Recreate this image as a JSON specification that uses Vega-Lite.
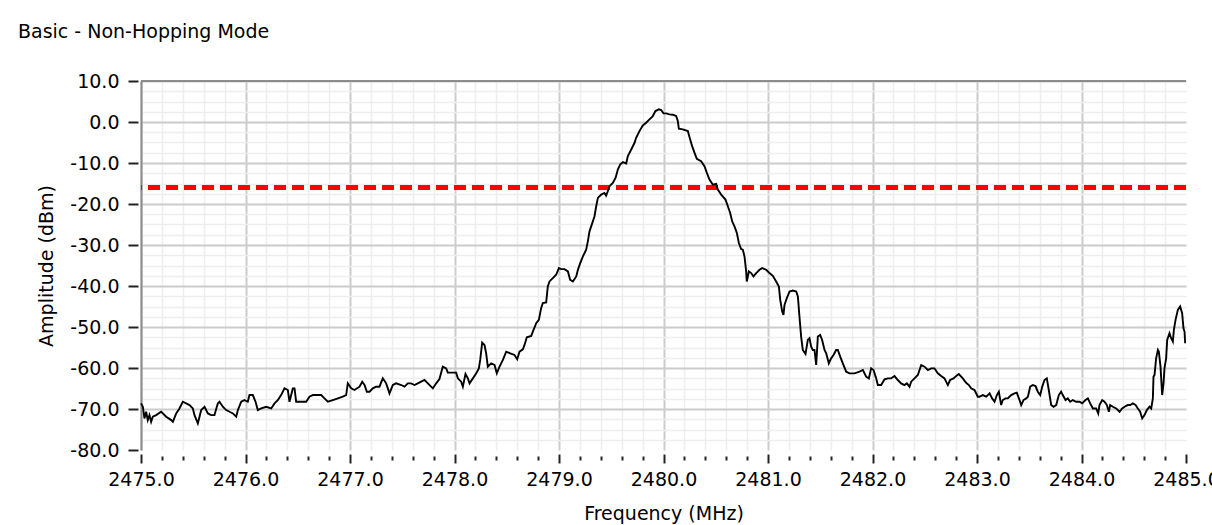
{
  "$schema": "https://vega.github.io/schema/vega-lite/v6.json",
  "width": 1045,
  "height": 369,
  "autosize": {"type": "none"},
  "padding": {"left": 141, "top": 81, "right": 26, "bottom": 75},
  "background": "white",
  "config": {
    "view": {"stroke": null},
    "axis": {"labelFont": "DejaVu Sans", "labelFontSize": 19, "labelColor": "#000", "titleFont": "DejaVu Sans", "titleFontSize": 19, "titleColor": "#000", "titleFontWeight": "normal", "labelFlush": false, "labelOverlap": false, "labelBound": false}
  },
  "title": {"text": "Basic - Non-Hopping Mode", "anchor": "start", "frame": "group", "dx": -123, "offset": 15, "baseline": "alphabetic", "font": "DejaVu Sans", "fontSize": 19, "fontWeight": "normal", "color": "#000"},
  "data": {"values": [
    {"f": 2475.000, "a": -68.63}, {"f": 2475.018, "a": -69.45}, {"f": 2475.033, "a": -72.30}, {"f": 2475.049, "a": -70.67},
    {"f": 2475.065, "a": -72.71}, {"f": 2475.081, "a": -71.49}, {"f": 2475.097, "a": -73.12}, {"f": 2475.113, "a": -71.89},
    {"f": 2475.145, "a": -71.49}, {"f": 2475.193, "a": -70.67}, {"f": 2475.241, "a": -71.89}, {"f": 2475.289, "a": -72.71},
    {"f": 2475.305, "a": -73.12}, {"f": 2475.337, "a": -71.08}, {"f": 2475.368, "a": -69.86}, {"f": 2475.400, "a": -68.23},
    {"f": 2475.432, "a": -68.63}, {"f": 2475.464, "a": -69.04}, {"f": 2475.496, "a": -69.86}, {"f": 2475.512, "a": -71.49},
    {"f": 2475.544, "a": -73.52}, {"f": 2475.560, "a": -71.89}, {"f": 2475.576, "a": -70.26}, {"f": 2475.608, "a": -69.45},
    {"f": 2475.640, "a": -71.08}, {"f": 2475.671, "a": -71.49}, {"f": 2475.703, "a": -71.49}, {"f": 2475.735, "a": -68.63},
    {"f": 2475.751, "a": -68.23}, {"f": 2475.783, "a": -69.45}, {"f": 2475.815, "a": -70.26}, {"f": 2475.847, "a": -70.67},
    {"f": 2475.879, "a": -71.08}, {"f": 2475.911, "a": -71.89}, {"f": 2475.927, "a": -70.26}, {"f": 2475.959, "a": -68.23},
    {"f": 2475.990, "a": -67.82}, {"f": 2476.022, "a": -68.23}, {"f": 2476.038, "a": -66.60}, {"f": 2476.070, "a": -66.60},
    {"f": 2476.096, "a": -68.23}, {"f": 2476.118, "a": -70.26}, {"f": 2476.150, "a": -69.86}, {"f": 2476.198, "a": -69.45},
    {"f": 2476.246, "a": -69.86}, {"f": 2476.278, "a": -68.63}, {"f": 2476.309, "a": -67.82}, {"f": 2476.341, "a": -66.60},
    {"f": 2476.373, "a": -64.97}, {"f": 2476.405, "a": -65.37}, {"f": 2476.421, "a": -68.23}, {"f": 2476.453, "a": -64.97},
    {"f": 2476.469, "a": -64.97}, {"f": 2476.485, "a": -68.23}, {"f": 2476.533, "a": -68.23}, {"f": 2476.581, "a": -68.23},
    {"f": 2476.612, "a": -67.00}, {"f": 2476.644, "a": -66.60}, {"f": 2476.692, "a": -66.60}, {"f": 2476.724, "a": -66.60},
    {"f": 2476.756, "a": -67.41}, {"f": 2476.788, "a": -68.23}, {"f": 2476.836, "a": -67.82}, {"f": 2476.884, "a": -67.41},
    {"f": 2476.931, "a": -67.00}, {"f": 2476.963, "a": -66.60}, {"f": 2476.979, "a": -63.74}, {"f": 2477.011, "a": -64.97},
    {"f": 2477.043, "a": -65.37}, {"f": 2477.091, "a": -64.56}, {"f": 2477.117, "a": -63.34}, {"f": 2477.139, "a": -64.15},
    {"f": 2477.161, "a": -65.78}, {"f": 2477.187, "a": -65.78}, {"f": 2477.218, "a": -64.97}, {"f": 2477.250, "a": -64.56},
    {"f": 2477.282, "a": -64.56}, {"f": 2477.314, "a": -62.52}, {"f": 2477.346, "a": -63.74}, {"f": 2477.378, "a": -66.19},
    {"f": 2477.410, "a": -64.15}, {"f": 2477.442, "a": -63.74}, {"f": 2477.490, "a": -64.15}, {"f": 2477.522, "a": -64.56},
    {"f": 2477.553, "a": -63.74}, {"f": 2477.585, "a": -63.74}, {"f": 2477.617, "a": -64.15}, {"f": 2477.649, "a": -63.74},
    {"f": 2477.681, "a": -63.34}, {"f": 2477.713, "a": -62.93}, {"f": 2477.745, "a": -63.74}, {"f": 2477.793, "a": -64.97},
    {"f": 2477.825, "a": -63.74}, {"f": 2477.856, "a": -62.70}, {"f": 2477.888, "a": -59.68}, {"f": 2477.920, "a": -60.08},
    {"f": 2477.936, "a": -61.14}, {"f": 2478.016, "a": -61.14}, {"f": 2478.032, "a": -62.53}, {"f": 2478.064, "a": -63.34},
    {"f": 2478.080, "a": -64.56}, {"f": 2478.105, "a": -61.47}, {"f": 2478.128, "a": -62.53}, {"f": 2478.144, "a": -63.75},
    {"f": 2478.176, "a": -62.53}, {"f": 2478.208, "a": -61.30}, {"f": 2478.233, "a": -60.08}, {"f": 2478.246, "a": -58.04},
    {"f": 2478.265, "a": -53.81}, {"f": 2478.287, "a": -54.38}, {"f": 2478.303, "a": -56.41}, {"f": 2478.319, "a": -59.68},
    {"f": 2478.351, "a": -58.86}, {"f": 2478.383, "a": -59.27}, {"f": 2478.405, "a": -61.30}, {"f": 2478.431, "a": -59.68},
    {"f": 2478.463, "a": -58.04}, {"f": 2478.495, "a": -56.01}, {"f": 2478.533, "a": -56.41}, {"f": 2478.574, "a": -56.82},
    {"f": 2478.600, "a": -57.88}, {"f": 2478.622, "a": -56.01}, {"f": 2478.654, "a": -55.44}, {"f": 2478.670, "a": -54.38},
    {"f": 2478.692, "a": -52.50}, {"f": 2478.734, "a": -52.18}, {"f": 2478.750, "a": -51.12}, {"f": 2478.782, "a": -49.08},
    {"f": 2478.807, "a": -48.26}, {"f": 2478.829, "a": -45.41}, {"f": 2478.845, "a": -44.19}, {"f": 2478.877, "a": -44.03},
    {"f": 2478.893, "a": -40.11}, {"f": 2478.909, "a": -38.89}, {"f": 2478.941, "a": -38.08}, {"f": 2478.973, "a": -37.26},
    {"f": 2478.999, "a": -35.63}, {"f": 2479.021, "a": -35.88}, {"f": 2479.053, "a": -35.88}, {"f": 2479.085, "a": -36.45},
    {"f": 2479.107, "a": -38.49}, {"f": 2479.133, "a": -38.89}, {"f": 2479.165, "a": -37.67}, {"f": 2479.181, "a": -36.04},
    {"f": 2479.203, "a": -34.41}, {"f": 2479.229, "a": -32.78}, {"f": 2479.260, "a": -31.15}, {"f": 2479.276, "a": -29.11},
    {"f": 2479.292, "a": -26.67}, {"f": 2479.308, "a": -25.45}, {"f": 2479.340, "a": -22.99}, {"f": 2479.356, "a": -20.56},
    {"f": 2479.372, "a": -18.52}, {"f": 2479.404, "a": -17.70}, {"f": 2479.435, "a": -17.30}, {"f": 2479.451, "a": -17.95},
    {"f": 2479.467, "a": -16.89}, {"f": 2479.483, "a": -15.66}, {"f": 2479.515, "a": -14.85}, {"f": 2479.541, "a": -13.63},
    {"f": 2479.563, "a": -11.59}, {"f": 2479.585, "a": -10.37}, {"f": 2479.611, "a": -9.80}, {"f": 2479.643, "a": -10.12},
    {"f": 2479.659, "a": -8.33}, {"f": 2479.691, "a": -6.70}, {"f": 2479.723, "a": -5.07}, {"f": 2479.738, "a": -3.85},
    {"f": 2479.770, "a": -2.22}, {"f": 2479.802, "a": -0.83}, {"f": 2479.834, "a": -0.18}, {"f": 2479.866, "a": 0.64},
    {"f": 2479.898, "a": 1.45}, {"f": 2479.923, "a": 2.67}, {"f": 2479.955, "a": 3.08}, {"f": 2479.978, "a": 2.92},
    {"f": 2480.000, "a": 2.10}, {"f": 2480.026, "a": 2.10}, {"f": 2480.057, "a": 1.86}, {"f": 2480.089, "a": 1.78},
    {"f": 2480.121, "a": 1.45}, {"f": 2480.137, "a": 0.23}, {"f": 2480.147, "a": -1.65}, {"f": 2480.185, "a": -1.81},
    {"f": 2480.233, "a": -2.22}, {"f": 2480.255, "a": -4.25}, {"f": 2480.274, "a": -5.89}, {"f": 2480.297, "a": -7.52},
    {"f": 2480.319, "a": -8.98}, {"f": 2480.360, "a": -9.55}, {"f": 2480.392, "a": -10.77}, {"f": 2480.415, "a": -12.40},
    {"f": 2480.440, "a": -14.03}, {"f": 2480.472, "a": -15.26}, {"f": 2480.504, "a": -15.09}, {"f": 2480.520, "a": -16.48},
    {"f": 2480.552, "a": -17.70}, {"f": 2480.593, "a": -18.92}, {"f": 2480.616, "a": -20.56}, {"f": 2480.638, "a": -22.18},
    {"f": 2480.657, "a": -24.22}, {"f": 2480.679, "a": -25.45}, {"f": 2480.702, "a": -27.07}, {"f": 2480.721, "a": -29.52},
    {"f": 2480.743, "a": -30.99}, {"f": 2480.759, "a": -31.15}, {"f": 2480.775, "a": -32.78}, {"f": 2480.791, "a": -36.45},
    {"f": 2480.797, "a": -38.89}, {"f": 2480.817, "a": -36.45}, {"f": 2480.839, "a": -36.85}, {"f": 2480.861, "a": -37.67},
    {"f": 2480.887, "a": -36.85}, {"f": 2480.919, "a": -36.04}, {"f": 2480.944, "a": -35.63}, {"f": 2480.983, "a": -36.04},
    {"f": 2481.014, "a": -36.85}, {"f": 2481.046, "a": -37.51}, {"f": 2481.078, "a": -38.89}, {"f": 2481.104, "a": -40.11},
    {"f": 2481.117, "a": -43.37}, {"f": 2481.136, "a": -46.23}, {"f": 2481.148, "a": -47.04}, {"f": 2481.158, "a": -44.60},
    {"f": 2481.180, "a": -42.97}, {"f": 2481.206, "a": -41.34}, {"f": 2481.238, "a": -41.09}, {"f": 2481.270, "a": -41.34},
    {"f": 2481.286, "a": -42.56}, {"f": 2481.301, "a": -47.45}, {"f": 2481.317, "a": -52.34}, {"f": 2481.333, "a": -55.60},
    {"f": 2481.359, "a": -56.58}, {"f": 2481.381, "a": -53.15}, {"f": 2481.397, "a": -52.75}, {"f": 2481.413, "a": -54.78},
    {"f": 2481.429, "a": -55.60}, {"f": 2481.445, "a": -55.60}, {"f": 2481.461, "a": -59.27}, {"f": 2481.477, "a": -52.34},
    {"f": 2481.499, "a": -51.93}, {"f": 2481.518, "a": -53.15}, {"f": 2481.541, "a": -55.60}, {"f": 2481.557, "a": -56.41},
    {"f": 2481.582, "a": -58.86}, {"f": 2481.604, "a": -57.64}, {"f": 2481.627, "a": -56.82}, {"f": 2481.652, "a": -55.60},
    {"f": 2481.668, "a": -55.60}, {"f": 2481.691, "a": -57.23}, {"f": 2481.716, "a": -58.86}, {"f": 2481.748, "a": -60.90},
    {"f": 2481.780, "a": -61.30}, {"f": 2481.828, "a": -61.30}, {"f": 2481.876, "a": -60.90}, {"f": 2481.908, "a": -60.49},
    {"f": 2481.939, "a": -62.12}, {"f": 2481.965, "a": -62.53}, {"f": 2481.987, "a": -60.08}, {"f": 2482.010, "a": -60.49},
    {"f": 2482.035, "a": -62.53}, {"f": 2482.051, "a": -64.16}, {"f": 2482.083, "a": -64.16}, {"f": 2482.115, "a": -62.77},
    {"f": 2482.147, "a": -62.53}, {"f": 2482.179, "a": -62.53}, {"f": 2482.211, "a": -61.96}, {"f": 2482.242, "a": -62.93},
    {"f": 2482.274, "a": -63.75}, {"f": 2482.306, "a": -64.16}, {"f": 2482.329, "a": -63.75}, {"f": 2482.354, "a": -64.56},
    {"f": 2482.370, "a": -63.34}, {"f": 2482.402, "a": -62.53}, {"f": 2482.434, "a": -61.71}, {"f": 2482.466, "a": -59.27},
    {"f": 2482.498, "a": -59.68}, {"f": 2482.530, "a": -60.49}, {"f": 2482.561, "a": -60.08}, {"f": 2482.593, "a": -60.08},
    {"f": 2482.625, "a": -61.30}, {"f": 2482.657, "a": -61.96}, {"f": 2482.689, "a": -62.53}, {"f": 2482.721, "a": -64.16},
    {"f": 2482.743, "a": -62.93}, {"f": 2482.775, "a": -62.53}, {"f": 2482.801, "a": -61.96}, {"f": 2482.826, "a": -61.47},
    {"f": 2482.864, "a": -62.53}, {"f": 2482.896, "a": -63.59}, {"f": 2482.922, "a": -64.16}, {"f": 2482.944, "a": -64.97},
    {"f": 2482.976, "a": -65.38}, {"f": 2483.008, "a": -67.01}, {"f": 2483.024, "a": -67.00}, {"f": 2483.056, "a": -66.60},
    {"f": 2483.088, "a": -67.00}, {"f": 2483.104, "a": -66.60}, {"f": 2483.120, "a": -66.19}, {"f": 2483.145, "a": -67.41},
    {"f": 2483.168, "a": -68.23}, {"f": 2483.190, "a": -66.60}, {"f": 2483.209, "a": -65.78}, {"f": 2483.231, "a": -69.04},
    {"f": 2483.247, "a": -67.82}, {"f": 2483.273, "a": -67.41}, {"f": 2483.295, "a": -67.41}, {"f": 2483.327, "a": -66.60},
    {"f": 2483.359, "a": -66.19}, {"f": 2483.381, "a": -66.03}, {"f": 2483.407, "a": -67.82}, {"f": 2483.423, "a": -69.04},
    {"f": 2483.445, "a": -67.82}, {"f": 2483.471, "a": -67.41}, {"f": 2483.487, "a": -67.00}, {"f": 2483.509, "a": -64.56},
    {"f": 2483.534, "a": -64.15}, {"f": 2483.560, "a": -64.40}, {"f": 2483.582, "a": -65.78}, {"f": 2483.605, "a": -66.60},
    {"f": 2483.624, "a": -64.56}, {"f": 2483.646, "a": -62.93}, {"f": 2483.668, "a": -62.52}, {"f": 2483.687, "a": -65.37},
    {"f": 2483.710, "a": -69.04}, {"f": 2483.732, "a": -69.45}, {"f": 2483.758, "a": -69.04}, {"f": 2483.783, "a": -66.60},
    {"f": 2483.805, "a": -65.78}, {"f": 2483.821, "a": -66.60}, {"f": 2483.847, "a": -67.82}, {"f": 2483.869, "a": -67.41},
    {"f": 2483.892, "a": -68.23}, {"f": 2483.917, "a": -67.82}, {"f": 2483.949, "a": -68.23}, {"f": 2483.981, "a": -68.23},
    {"f": 2484.006, "a": -68.63}, {"f": 2484.038, "a": -67.82}, {"f": 2484.061, "a": -67.41}, {"f": 2484.083, "a": -68.63},
    {"f": 2484.109, "a": -69.86}, {"f": 2484.140, "a": -69.86}, {"f": 2484.160, "a": -71.08}, {"f": 2484.172, "a": -69.04},
    {"f": 2484.198, "a": -67.82}, {"f": 2484.220, "a": -68.23}, {"f": 2484.243, "a": -69.04}, {"f": 2484.262, "a": -70.67},
    {"f": 2484.274, "a": -69.04}, {"f": 2484.300, "a": -69.45}, {"f": 2484.332, "a": -69.86}, {"f": 2484.364, "a": -70.67},
    {"f": 2484.389, "a": -69.86}, {"f": 2484.412, "a": -69.45}, {"f": 2484.443, "a": -69.04}, {"f": 2484.466, "a": -69.04},
    {"f": 2484.491, "a": -68.63}, {"f": 2484.517, "a": -69.04}, {"f": 2484.539, "a": -69.86}, {"f": 2484.561, "a": -70.67},
    {"f": 2484.581, "a": -72.30}, {"f": 2484.603, "a": -71.49}, {"f": 2484.625, "a": -70.27}, {"f": 2484.651, "a": -69.45},
    {"f": 2484.667, "a": -69.86}, {"f": 2484.683, "a": -67.41}, {"f": 2484.689, "a": -62.11}, {"f": 2484.699, "a": -61.71},
    {"f": 2484.714, "a": -57.63}, {"f": 2484.731, "a": -55.59}, {"f": 2484.740, "a": -56.00}, {"f": 2484.756, "a": -59.67},
    {"f": 2484.772, "a": -66.60}, {"f": 2484.785, "a": -63.74}, {"f": 2484.794, "a": -60.08}, {"f": 2484.810, "a": -57.63},
    {"f": 2484.820, "a": -53.15}, {"f": 2484.842, "a": -51.52}, {"f": 2484.858, "a": -52.74}, {"f": 2484.874, "a": -53.56},
    {"f": 2484.884, "a": -50.71}, {"f": 2484.900, "a": -48.26}, {"f": 2484.922, "a": -45.82}, {"f": 2484.944, "a": -45.00},
    {"f": 2484.963, "a": -46.63}, {"f": 2484.976, "a": -50.30}, {"f": 2484.986, "a": -51.11}, {"f": 2484.992, "a": -53.97}
  ]},
  "resolve": {"axis": {"x": "independent", "y": "independent"}},
  "layer": [
    {
      "mark": {"type": "line", "strokeOpacity": 0},
      "encoding": {
        "x": {"field": "f", "type": "quantitative", "scale": {"domain": [2475, 2485], "nice": false, "zero": false},
          "axis": {"orient": "bottom", "values": [2475.2,2475.4,2475.6,2475.8,2476.2,2476.4,2476.6,2476.8,2477.2,2477.4,2477.6,2477.8,2478.2,2478.4,2478.6,2478.8,2479.2,2479.4,2479.6,2479.8,2480.2,2480.4,2480.6,2480.8,2481.2,2481.4,2481.6,2481.8,2482.2,2482.4,2482.6,2482.8,2483.2,2483.4,2483.6,2483.8,2484.2,2484.4,2484.6,2484.8],
            "grid": true, "gridColor": "#eeeeee", "gridWidth": 1.5, "ticks": true, "tickSize": 4, "tickWidth": 2, "tickColor": "#222", "offset": 6, "labels": false, "domain": false, "title": null}},
        "y": {"field": "a", "type": "quantitative", "scale": {"domain": [-80, 10], "nice": false, "zero": false},
          "axis": {"orient": "left", "values": [-77.5,-75,-72.5,-67.5,-65,-62.5,-57.5,-55,-52.5,-47.5,-45,-42.5,-37.5,-35,-32.5,-27.5,-25,-22.5,-17.5,-15,-12.5,-7.5,-5,-2.5,2.5,5,7.5],
            "grid": true, "gridColor": "#eeeeee", "gridWidth": 1.5, "ticks": false, "labels": false, "domain": true, "domainColor": "#8c8c8c", "domainWidth": 2, "offset": 0, "title": null}}
      }
    },
    {
      "mark": {"type": "rule", "color": "#ff0000", "strokeWidth": 3.5, "strokeDash": [12, 6]},
      "encoding": {"y": {"datum": -16, "type": "quantitative", "axis": null}}
    },
    {
      "mark": {"type": "rule", "color": "#8c8c8c", "strokeWidth": 2},
      "encoding": {"y": {"datum": 10, "type": "quantitative", "axis": null}}
    },
    {
      "mark": {"type": "line", "color": "#000", "strokeWidth": 1.9},
      "encoding": {
        "x": {"field": "f", "type": "quantitative",
          "axis": {"orient": "bottom", "values": [2475,2476,2477,2478,2479,2480,2481,2482,2483,2484,2485], "format": ".1f",
            "grid": true, "gridColor": "#cccccc", "gridWidth": 2, "gridOpacity": {"condition": {"test": "datum.value >= 2484.99", "value": 0}, "value": 1},
            "ticks": true, "tickSize": 9, "tickWidth": 2, "tickColor": "#222", "offset": 4, "domain": false, "labelPadding": 7,
            "title": "Frequency (MHz)", "titlePadding": 15}},
        "y": {"field": "a", "type": "quantitative",
          "axis": {"orient": "left", "values": [-80,-70,-60,-50,-40,-30,-20,-10,0,10],
            "labelExpr": "replace(format(datum.value, '.1f'), '\u2212', '-')",
            "grid": true, "gridColor": "#cccccc", "gridWidth": 2, "gridOpacity": {"condition": {"test": "datum.value <= -79.9", "value": 0}, "value": 1},
            "ticks": true, "tickSize": 10, "tickWidth": 2, "tickColor": "#222", "offset": 3, "domain": false, "labelPadding": 9,
            "title": "Amplitude (dBm)", "titlePadding": 13}}
      }
    }
  ]
}
